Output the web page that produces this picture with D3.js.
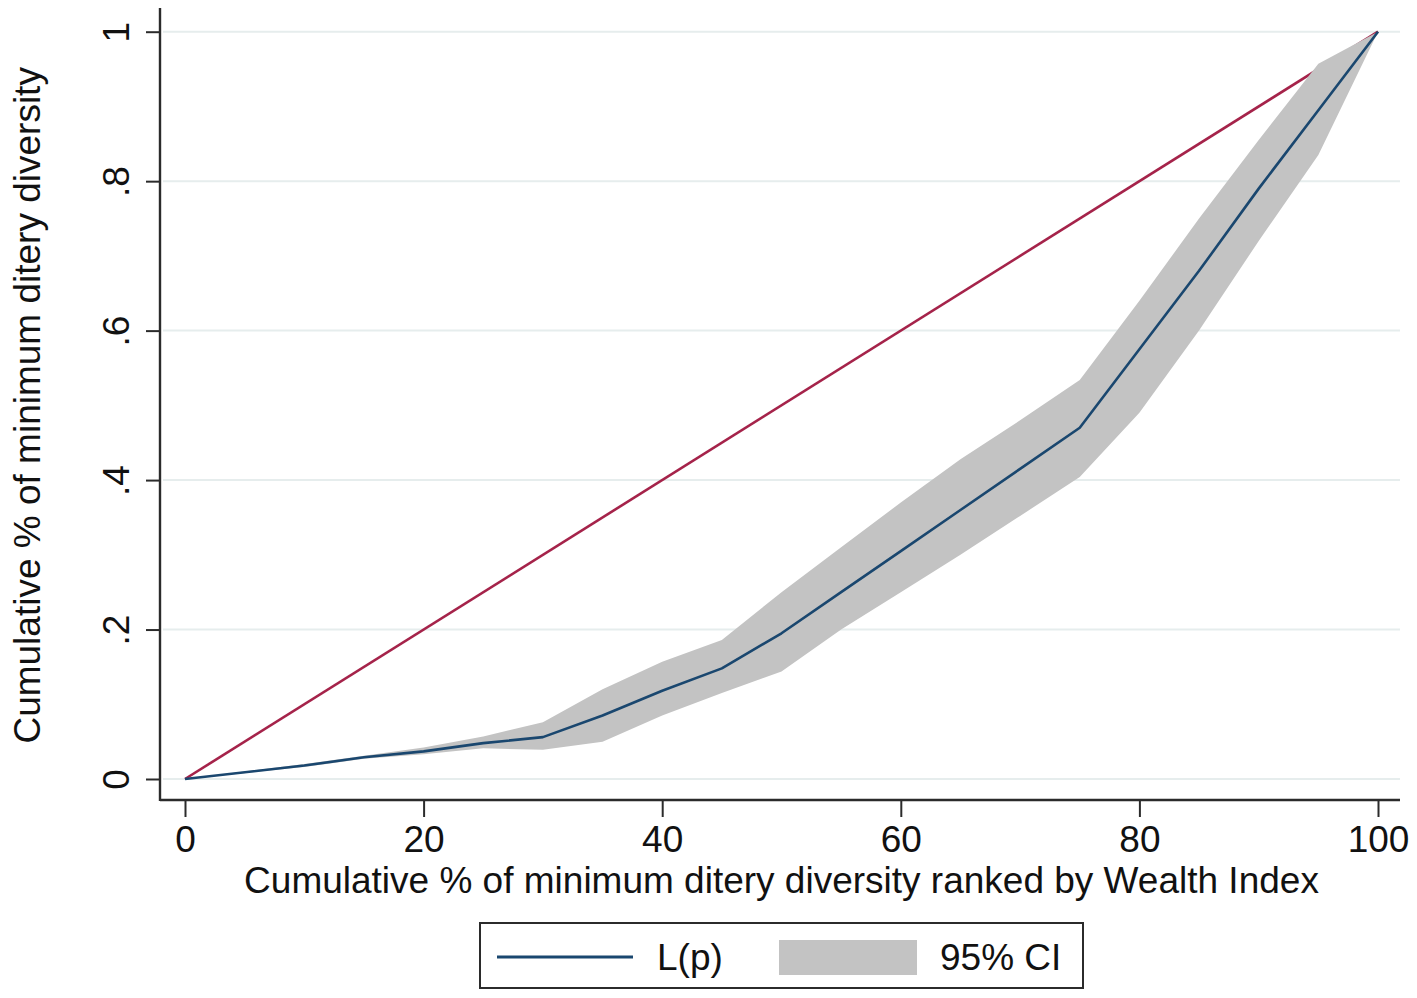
<!DOCTYPE html>
<html>
<head>
<meta charset="utf-8">
<script src="https://cdn.jsdelivr.net/npm/d3@7"></script>
<style>
  body { margin: 0; background: #fff; }
  svg text { font-family: "Liberation Sans", Arial, sans-serif; fill: #111; }
</style>
</head>
<body>
<div id="chart"></div>
<script>
// values
var pct   = [0, 10, 15, 20, 25, 30, 35, 40, 45, 50, 55, 60, 65, 70, 75, 80, 85, 90, 95, 100];
var lp    = [0, 0.018, 0.029, 0.037, 0.048, 0.056, 0.085, 0.118, 0.148, 0.195, 0.25, 0.305, 0.36, 0.415, 0.47, 0.575, 0.68, 0.79, 0.895, 1];
var ciHi  = [0, 0.02, 0.031, 0.042, 0.057, 0.076, 0.12, 0.157, 0.186, 0.25, 0.31, 0.37, 0.428, 0.48, 0.534, 0.64, 0.75, 0.855, 0.957, 1];
var ciLo  = [0, 0.016, 0.027, 0.033, 0.041, 0.039, 0.05, 0.085, 0.115, 0.144, 0.2, 0.25, 0.3, 0.352, 0.404, 0.49, 0.6, 0.72, 0.835, 1];
var equality = [0, 100];

var xTicks = [0, 20, 40, 60, 80, 100];
var yTicks = [0, 0.2, 0.4, 0.6, 0.8, 1];
var yTickLabels = ["0", ".2", ".4", ".6", ".8", "1"];

var xTitle = "Cumulative % of minimum ditery diversity ranked by Wealth Index";
var yTitle = "Cumulative % of minimum ditery diversity";
var legendLabels = ["L(p)", "95% CI"];

var W = 1417, H = 998;
var fs = 37;
var plot = {left: 160, right: 1400, top: 8, bottom: 800};

var navy = "#1a476f", red = "#a5234a", band = "#c3c3c3", grid = "#e6eded", axisCol = "#2b2b2b";

var x = d3.scaleLinear().domain([0, 100]).range([185, 1378]);
var y = d3.scaleLinear().domain([0, 1]).range([779, 31.7]);

var data = pct.map(function(p, i) {
    return {p: p, l: lp[i], hi: ciHi[i], lo: ciLo[i]};
});

var svg = d3.select("#chart").append("svg")
    .attr("width", W)
    .attr("height", H);

svg.append("rect").attr("width", W).attr("height", H).attr("fill", "#fff");

// grid
svg.append("g").selectAll("line")
    .data(yTicks)
  .enter().append("line")
    .attr("x1", plot.left + 3)
    .attr("x2", plot.right)
    .attr("y1", function(d) { return y(d); })
    .attr("y2", function(d) { return y(d); })
    .attr("stroke", grid)
    .attr("stroke-width", 2);

// line of equality
svg.append("path")
    .datum(equality)
    .attr("fill", "none")
    .attr("stroke", red)
    .attr("stroke-width", 2.6)
    .attr("d", d3.line().x(function(d) { return x(d); }).y(function(d) { return y(d / 100); }));

// confidence band
svg.append("path")
    .datum(data)
    .attr("fill", band)
    .attr("d", d3.area()
        .x(function(d) { return x(d.p); })
        .y0(function(d) { return y(d.lo); })
        .y1(function(d) { return y(d.hi); }));

// concentration curve
svg.append("path")
    .datum(data)
    .attr("fill", "none")
    .attr("stroke", navy)
    .attr("stroke-width", 2.6)
    .attr("stroke-linejoin", "round")
    .attr("d", d3.line().x(function(d) { return x(d.p); }).y(function(d) { return y(d.l); }));

// axes
var xAxis = d3.axisBottom(x).tickValues(xTicks).tickSize(17).tickPadding(9).tickFormat(d3.format("d"));
var gx = svg.append("g")
    .attr("transform", "translate(0," + plot.bottom + ")")
    .call(xAxis);
gx.select(".domain").remove();
gx.selectAll("line").attr("stroke", axisCol).attr("stroke-width", 2);
gx.selectAll("text").style("font-size", fs + "px").attr("fill", "#111");

var yAxis = d3.axisLeft(y).tickValues(yTicks).tickSize(14)
    .tickFormat(function(d, i) { return yTickLabels[i]; });
var gy = svg.append("g")
    .attr("transform", "translate(" + plot.left + ",0)")
    .call(yAxis);
gy.select(".domain").remove();
gy.selectAll("line").attr("stroke", axisCol).attr("stroke-width", 2);
gy.selectAll("text")
    .style("font-size", fs + "px")
    .attr("fill", "#111")
    .attr("text-anchor", "middle")
    .attr("x", 0)
    .attr("y", -31)
    .attr("dy", 0)
    .attr("transform", "rotate(-90)");

svg.append("line")
    .attr("x1", plot.left).attr("x2", plot.left)
    .attr("y1", plot.top).attr("y2", plot.bottom + 1)
    .attr("stroke", axisCol).attr("stroke-width", 2.4);
svg.append("line")
    .attr("x1", plot.left).attr("x2", plot.right)
    .attr("y1", plot.bottom).attr("y2", plot.bottom)
    .attr("stroke", axisCol).attr("stroke-width", 2.4);

// titles
svg.append("text")
    .attr("x", (x(0) + x(100)) / 2)
    .attr("y", 893)
    .attr("text-anchor", "middle")
    .style("font-size", fs + "px")
    .text(xTitle);

svg.append("text")
    .attr("transform", "translate(40," + (y(0) + y(1)) / 2 + ") rotate(-90)")
    .attr("text-anchor", "middle")
    .style("font-size", fs + "px")
    .text(yTitle);

// legend
var lg = svg.append("g");
lg.append("rect")
    .attr("x", 480).attr("y", 923)
    .attr("width", 603).attr("height", 65)
    .attr("fill", "#fff")
    .attr("stroke", axisCol)
    .attr("stroke-width", 2);
lg.append("line")
    .attr("x1", 497).attr("x2", 633)
    .attr("y1", 957).attr("y2", 957)
    .attr("stroke", navy).attr("stroke-width", 3);
lg.append("text")
    .attr("x", 657).attr("y", 970)
    .style("font-size", fs + "px")
    .text(legendLabels[0]);
lg.append("rect")
    .attr("x", 779).attr("y", 940)
    .attr("width", 138).attr("height", 35)
    .attr("fill", band);
lg.append("text")
    .attr("x", 940).attr("y", 970)
    .style("font-size", fs + "px")
    .text(legendLabels[1]);
</script>
</body>
</html>
